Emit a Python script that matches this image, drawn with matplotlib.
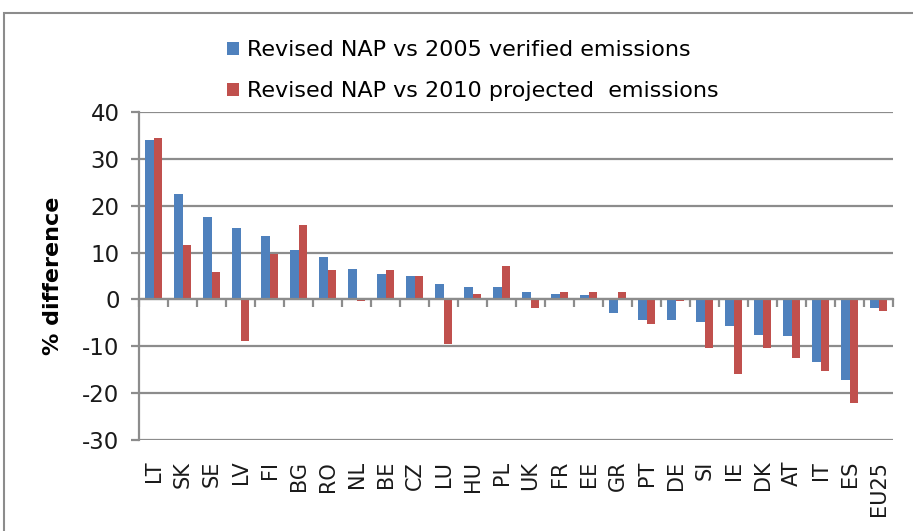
import matplotlib
matplotlib.use("Agg")
import matplotlib.pyplot as plt
from matplotlib.patches import Rectangle
import numpy as np

plt.rcParams['font.family'] = ['DejaVu Sans']

countries = ["LT", "SK", "SE", "LV", "FI", "BG", "RO", "NL", "BE", "CZ", "LU", "HU", "PL",
             "UK", "FR", "EE", "GR", "PT", "DE", "SI", "IE", "DK", "AT", "IT", "ES", "EU25"]
vs_2005_verified = [34.0, 22.4, 17.5, 15.2, 13.6, 10.5, 9.0, 6.6, 5.4, 5.1, 3.2, 2.7, 2.7,
                    1.6, 1.2, 0.85, -2.9, -4.4, -4.4, -4.8, -5.6, -7.5, -7.9, -13.3, -17.1, -1.8]
vs_2010_projected = [34.4, 11.7, 5.9, -8.9, 9.7, 15.9, 6.2, -0.3, 6.3, 5.1, -9.5, 1.2, 7.1,
                     -1.8, 1.6, 1.6, 1.6, -5.3, -0.3, -10.3, -15.9, -10.3, -12.5, -15.2, -22.1, -2.5]
label_2005 = "Revised NAP vs 2005 verified emissions"
label_2010 = "Revised NAP vs 2010 projected  emissions"
yticks = [40, 30, 20, 10, 0, -10, -20, -30]

W, H = 913, 531
fig = plt.figure(figsize=(W / 100, H / 100), dpi=100)
ax = fig.add_axes([139 / W, 1 - 440 / H, (893 - 139) / W, (440 - 112) / H])

grid_c = "#8c8c8c"
x = np.arange(len(countries))
bw = 0.29
ax.bar(x - bw / 2, vs_2005_verified, bw, color="#4F81BD", label=label_2005, zorder=3)
ax.bar(x + bw / 2, vs_2010_projected, bw, color="#C0504D", label=label_2010, zorder=3)

ax.set_xlim(-0.5, len(countries) - 0.5)
ax.set_ylim(-30, 40)
ax.set_yticks(yticks)
ax.set_yticklabels([str(v) for v in yticks], fontsize=16.5, color="#1a1a1a")
for v in yticks:
    ax.axhline(v, color=grid_c, lw=1.6, zorder=1)

# spines
for s in ["top", "right"]:
    ax.spines[s].set_visible(False)
ax.spines["left"].set_color(grid_c)
ax.spines["left"].set_linewidth(1.6)
ax.spines["bottom"].set_position(("data", 0))
ax.spines["bottom"].set_color(grid_c)
ax.spines["bottom"].set_linewidth(1.6)
ax.spines["bottom"].set_zorder(4)
ax.set_xticks(np.arange(len(countries) + 1) - 0.5)
ax.set_xticklabels([])
ax.tick_params(axis="x", direction="out", length=6, width=1.6, color=grid_c)
ax.tick_params(axis="y", direction="out", length=6, width=1.6, color=grid_c, pad=8)

sec = ax.secondary_xaxis("bottom")
sec.set_xticks(x)
sec.set_xticklabels(countries, rotation=90, fontsize=15, color="#1a1a1a")
sec.tick_params(length=0, pad=15)
sec.spines["bottom"].set_visible(False)

ax.set_ylabel("% difference", fontsize=16, fontweight="bold", labelpad=14)

leg = ax.legend(loc="upper left", bbox_to_anchor=(216 / W, 1 - 29 / H),
                bbox_transform=fig.transFigure, frameon=False, fontsize=16,
                handlelength=0.55, handleheight=0.55, handletextpad=0.35,
                labelspacing=0.95, borderpad=0)

# outer chart frame
fig.patches.append(Rectangle((4 / W, -0.02), 1.05, 1 - 13 / H + 0.02,
                             transform=fig.transFigure, fill=False,
                             edgecolor="#8c8c8c", lw=1.5, clip_on=False))

fig.savefig("out.png", dpi=100)
